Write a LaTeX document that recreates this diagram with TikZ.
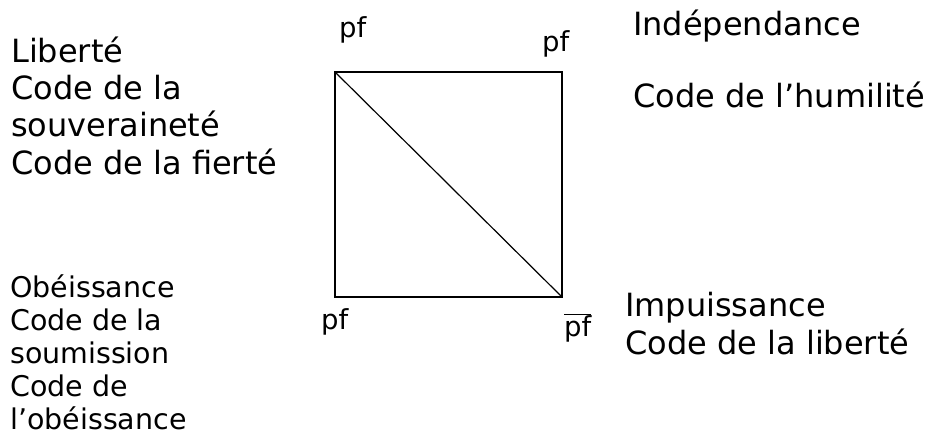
\documentclass[tikz,border=0pt]{standalone}
\usepackage{fontspec}
\setmainfont{DejaVu Sans}
\tikzset{
 big/.style={font=\fontsize{32}{37.2}\selectfont, anchor=base west, inner sep=0pt, align=left},
 small/.style={font=\fontsize{28.5}{32.8}\selectfont, anchor=base west, inner sep=0pt, align=left},
 corner/.style={font=\fontsize{27.5}{32}\selectfont, anchor=base west, inner sep=0pt},
 frame/.style={line width=2.6pt},
 diag/.style={line width=1.2pt}
}
\begin{document}
\begin{tikzpicture}[x=1pt,y=-1pt]
\useasboundingbox (0,0) rectangle (926,439);
\coordinate (TL) at (335,72);
\coordinate (TR) at (562,72);
\coordinate (BR) at (562,297);
\coordinate (BL) at (335,297);
\draw[frame] (TL) -- (TR) -- (BR) -- (BL) -- cycle;
\draw[diag] (TL) -- (BR);
\node[corner] (pTL) at (339,37) {pf};
\node[corner] (pTR) at (542,51) {pf};
\node[corner] (pBL) at (321,329) {pf};
\node[corner] (pBR) at (564,336) {$\overline{\mbox{pf}}$};
\node[big] (lib) at (11,174) {Liberté\\Code de la\\souveraineté\\Code de la fierté};
\node[small] (obe) at (10,429) {Obéissance\\Code de la\\soumission\\Code de\\l’obéissance};
\node[big] (ind) at (633,35) {Indépendance};
\node[big] (hum) at (633,107) {Code de l’humilité};
\node[big] (imp) at (625,354) {Impuissance\\Code de la liberté};
\end{tikzpicture}
\end{document}
